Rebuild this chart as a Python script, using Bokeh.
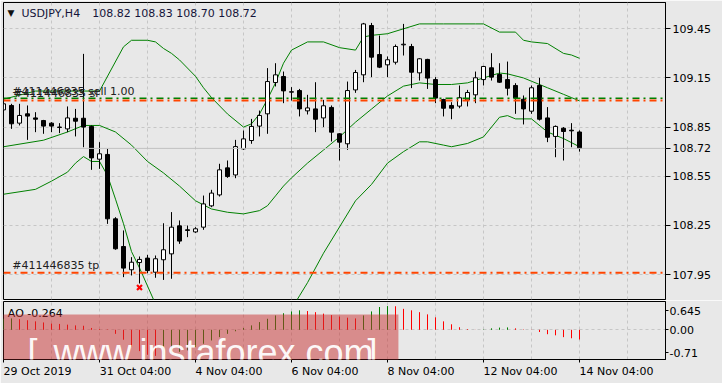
from bokeh.plotting import figure
from bokeh.models import ColumnDataSource, FixedTicker, Span, Label, Range1d, PrintfTickFormatter, Grid
from bokeh.layouts import column
from bokeh.embed import file_html
from bokeh.resources import INLINE

# ---------------- data (USDJPY H4) ----------------
open_ = [108.955, 108.982, 108.874, 108.931, 108.906, 108.890, 108.874, 108.850, 108.839, 108.904,
         108.904, 108.854, 108.654, 108.683, 108.290, 108.121, 107.979, 108.023, 108.050, 107.964,
         108.040, 108.076, 108.247, 108.223, 108.210, 108.239, 108.369, 108.436, 108.601, 108.558,
         108.717, 108.768, 108.856, 108.931, 109.122, 109.159, 109.063, 109.073, 108.949, 108.961,
         108.906, 108.970, 108.809, 108.748, 109.077, 109.169, 109.470, 109.293, 109.230, 109.246,
         109.352, 109.342, 109.181, 109.263, 109.140, 109.018, 108.982, 108.978, 109.016, 109.047,
         109.140, 109.212, 109.171, 109.140, 109.104, 109.020, 108.947, 109.104, 108.906, 108.793,
         108.843, 108.831, 108.820]
high = [109.012, 108.992, 108.992, 108.982, 108.941, 108.894, 108.880, 108.874, 108.976, 108.961,
        109.297, 108.860, 108.758, 108.717, 108.300, 108.219, 108.056, 108.060, 108.070, 108.066,
        108.263, 108.331, 108.280, 108.249, 108.239, 108.432, 108.467, 108.626, 108.646, 108.772,
        108.829, 108.900, 108.951, 109.210, 109.240, 109.189, 109.094, 109.083, 109.047, 109.124,
        109.016, 108.982, 108.813, 109.128, 109.199, 109.486, 109.486, 109.409, 109.281, 109.354,
        109.480, 109.358, 109.271, 109.267, 109.155, 109.023, 109.002, 109.104, 109.077, 109.189,
        109.224, 109.301, 109.240, 109.250, 109.118, 109.043, 109.104, 109.151, 108.972, 108.860,
        108.850, 108.874, 108.830]
low = [108.941, 108.839, 108.860, 108.772, 108.819, 108.809, 108.819, 108.813, 108.819, 108.793,
       108.727, 108.589, 108.595, 108.259, 108.101, 107.934, 107.944, 107.895, 107.958, 107.930,
       107.917, 107.924, 108.137, 108.178, 108.204, 108.223, 108.361, 108.426, 108.540, 108.538,
       108.711, 108.748, 108.793, 108.809, 109.098, 108.996, 109.012, 108.915, 108.927, 108.819,
       108.850, 108.762, 108.646, 108.711, 109.059, 109.124, 109.155, 109.210, 109.155, 109.232,
       109.287, 109.088, 109.134, 109.083, 108.996, 108.915, 108.898, 108.965, 108.976, 108.996,
       109.104, 109.134, 109.120, 109.043, 108.931, 108.866, 108.931, 108.890, 108.758, 108.666,
       108.646, 108.727, 108.700]
close = [108.992, 108.870, 108.921, 108.917, 108.898, 108.856, 108.856, 108.848, 108.906, 108.886,
         108.850, 108.662, 108.687, 108.290, 108.107, 107.989, 108.025, 108.042, 107.974, 108.046,
         108.101, 108.239, 108.154, 108.219, 108.229, 108.381, 108.447, 108.589, 108.548, 108.731,
         108.778, 108.854, 108.921, 109.128, 109.169, 109.071, 109.066, 108.961, 108.967, 108.898,
         108.980, 108.819, 108.758, 109.073, 109.183, 109.480, 109.277, 109.216, 109.261, 109.342,
         109.356, 109.185, 109.267, 109.149, 109.027, 108.965, 108.965, 109.029, 109.061, 109.151,
         109.220, 109.155, 109.124, 109.087, 109.027, 108.961, 109.090, 108.898, 108.788, 108.854,
         108.823, 108.827, 108.720]

time_ticks = [0, 12, 24, 36, 48, 60, 72]
time_labels = ["29 Oct 2019", "31 Oct 04:00", "4 Nov 04:00", "6 Nov 04:00",
               "8 Nov 04:00", "12 Nov 04:00", "14 Nov 04:00"]
time_label_px = [68, 72, 67, 67, 67, 74, 74]
price_ticks = [107.95, 108.25, 108.55, 108.85, 109.15, 109.45]

# Bollinger bands (read at selected bars)
upper_x = [0, 4, 10, 12, 15, 16, 18, 19, 20, 21, 22, 24, 25, 26, 28, 30, 31, 32, 33, 34,
           35, 36, 38, 40, 42, 44, 45, 46, 48, 50, 52, 55, 59, 60, 62, 64, 65, 66, 68, 70, 71, 72]
upper = [109.02, 109.07, 109.07, 109.07, 109.34, 109.38, 109.38, 109.37, 109.33, 109.30,
         109.26, 109.16, 109.09, 109.03, 108.93, 108.85, 108.87, 108.93, 109.02, 109.12,
         109.24, 109.32, 109.37, 109.37, 109.335, 109.32, 109.40, 109.41, 109.42, 109.45,
         109.48, 109.48, 109.48, 109.48, 109.43, 109.43, 109.38, 109.37, 109.36, 109.30,
         109.29, 109.27]
middle_x = [0, 5, 8, 10, 12, 14, 16, 18, 20, 22, 24, 26, 28, 30, 32, 33, 34, 35, 36, 38,
            40, 42, 44, 46, 48, 50, 52, 54, 56, 58, 60, 62, 63, 65, 66, 68, 70, 71, 72]
middle = [108.73, 108.77, 108.82, 108.86, 108.86, 108.82, 108.74, 108.64, 108.57, 108.49,
          108.40, 108.35, 108.33, 108.32, 108.34, 108.37, 108.43, 108.49, 108.54, 108.63,
          108.71, 108.79, 108.88, 108.96, 109.04, 109.10, 109.12, 109.11, 109.11, 109.12,
          109.15, 109.18, 109.175, 109.15, 109.13, 109.09, 109.05, 109.03, 109.01]
lower_x1 = [0, 4, 6, 8, 9, 10, 11, 12, 13, 14, 15, 16, 17, 18, 19]
lower1 = [108.44, 108.47, 108.52, 108.575, 108.63, 108.67, 108.64, 108.64, 108.555, 108.41,
          108.26, 108.09, 107.99, 107.88, 107.77]
lower_x2 = [36, 37, 38, 40, 42, 44, 46, 48, 50, 52, 53, 55, 56, 58, 60, 62, 63, 64, 66, 68, 70, 72]
lower2 = [107.74, 107.82, 107.90, 108.08, 108.24, 108.40, 108.50, 108.63, 108.70, 108.76,
          108.76, 108.74, 108.73, 108.75, 108.79, 108.91, 108.92, 108.90, 108.90, 108.82,
          108.78, 108.73]

sell_price = 109.026
sl_price = 109.012
tp_price = 107.960
last_price = 108.72
closed_x = [17]
closed_y = [107.871]

ao = [0.30, 0.31, 0.29, 0.26, 0.23, 0.20, 0.17, 0.16, 0.14, 0.12,
      0.11, 0.05, 0.02, 0.01, -0.11, -0.27, -0.45, -0.58, -0.68, -0.71,
      -0.68, -0.65, -0.60, -0.56, -0.47, -0.38, -0.29, -0.20, -0.11, -0.04,
      0.05, 0.12, 0.21, 0.30, 0.39, 0.45, 0.50, 0.53, 0.51, 0.48,
      0.44, 0.40, 0.36, 0.33, 0.31, 0.39, 0.50, 0.62, 0.645, 0.64,
      0.57, 0.53, 0.48, 0.42, 0.34, 0.23, 0.15, 0.07, 0.02, 0.003,
      0.01, 0.04, 0.06, 0.065, 0.04, 0.01, -0.005, -0.06, -0.12, -0.15,
      -0.20, -0.23, -0.264]
ao_tick_pos = [0.525, 0.0, -0.626]
ao_tick_text = ["0.645", "0.00", "-0.71"]

# ---------------- styling ----------------
BG = "#e8e8e8"
GRID = "#c6c6c6"
FONT = "DejaVu Sans"
BB_GREEN = "#008000"

bars = list(range(len(close)))
xr = Range1d(0.0, 82.75)
grid_x = list(range(0, 84, 6))

Y0, Y1 = 107.7974, 109.6106

# ---------------- main price panel ----------------
p1 = figure(width=722, height=300, x_range=xr, y_range=Range1d(Y0, Y1),
            output_backend="svg", toolbar_location=None, x_axis_location=None,
            y_axis_location="right", min_border_left=3, min_border_right=57,
            min_border_top=2, min_border_bottom=1)
p1.background_fill_color = BG
p1.border_fill_color = BG
p1.outline_line_color = "black"
p1.outline_line_width = 1

ax = p1.yaxis[0]
ax.ticker = FixedTicker(ticks=price_ticks + [last_price])
ax.formatter = PrintfTickFormatter(format="%.2f")
ax.major_tick_out = 5
ax.major_tick_in = 0
ax.minor_tick_line_color = None
ax.axis_line_color = "black"
ax.major_tick_line_color = "black"
ax.major_label_standoff = 2
ax.major_label_text_font = FONT
ax.major_label_text_font_size = "11px"
ax.major_label_text_color = "black"

p1.ygrid.ticker = FixedTicker(ticks=price_ticks)
p1.ygrid.grid_line_color = GRID
p1.ygrid.grid_line_dash = "3 3"
for g in p1.xgrid:
    g.visible = False
p1.add_layout(Grid(dimension=0, ticker=FixedTicker(ticks=grid_x),
                   grid_line_color=GRID, grid_line_dash="3 3"), "center")

# bid line
p1.add_layout(Span(location=last_price, dimension="width", line_color="#c0c0c0", line_width=1))

# Bollinger bands
p1.line(upper_x, upper, line_color=BB_GREEN, line_width=1)
p1.line(middle_x, middle, line_color=BB_GREEN, line_width=1)
p1.line(lower_x1, lower1, line_color=BB_GREEN, line_width=1)
p1.line(lower_x2, lower2, line_color=BB_GREEN, line_width=1)

# order lines
p1.add_layout(Span(location=sell_price, dimension="width", line_color="#008000",
                   line_width=1.5, line_dash="7 4 2 4"))
p1.add_layout(Span(location=sl_price, dimension="width", line_color="#ff4500",
                   line_width=2, line_dash="7 4 2 4"))
p1.add_layout(Span(location=tp_price, dimension="width", line_color="#ff4500",
                   line_width=2, line_dash="7 4 2 4"))

# candles
src = ColumnDataSource(dict(
    x=bars, high=high, low=low,
    top=[max(o, c) for o, c in zip(open_, close)],
    bottom=[min(o, c) for o, c in zip(open_, close)],
    fill=["white" if c >= o else "black" for o, c in zip(open_, close)],
))
p1.segment(x0="x", y0="high", x1="x", y1="low", source=src, line_color="black", line_width=1)
p1.vbar(x="x", width=0.5, top="top", bottom="bottom", source=src,
        fill_color="fill", line_color="black", line_width=1)

p1.scatter(closed_x, closed_y, marker="x", size=7, line_width=2.2, color="#ff0000")

def lab(p, x, y, text, size="11px", color="black", font=FONT, baseline="middle",
        x_units="screen", y_units="screen", **kw):
    l = Label(x=x, y=y, x_units=x_units, y_units=y_units, text=text,
              text_font_size=size, text_color=color, text_font=font,
              text_baseline=baseline, text_align="left", **kw)
    p.add_layout(l)
    return l

lab(p1, 4, 286.5, "\u25bc", size="9px", color="#101010")
lab(p1, 18, 286.3, "USDJPY,H4", color="#14143a")
lab(p1, 88.7, 286.3, "108.82 108.83 108.70 108.72", color="#14143a")
lab(p1, 8.7, 208.2, "#411446835 sell 1.00", color="#202020")
lab(p1, 10.3, 206.0, "#411446835 sl", color="#202020")
lab(p1, 8.7, 33.7, "#411446835 tp", color="#202020")

# ---------------- AO panel ----------------
p2 = figure(width=722, height=83, x_range=xr, y_range=Range1d(-0.808, 0.770),
            output_backend="svg", toolbar_location=None, x_axis_location="below",
            y_axis_location="right", min_border_left=3, min_border_right=57,
            min_border_top=1, min_border_bottom=24)
p2.background_fill_color = BG
p2.border_fill_color = BG
p2.outline_line_color = "black"

ay = p2.yaxis[0]
ay.ticker = FixedTicker(ticks=ao_tick_pos)
ay.major_label_overrides = dict(zip(ao_tick_pos, ao_tick_text))
ay.major_tick_out = 3
ay.major_tick_in = 0
ay.minor_tick_line_color = None
ay.axis_line_color = "black"
ay.major_label_standoff = 1
ay.major_label_text_font = FONT
ay.major_label_text_font_size = "11px"
ay.major_label_text_color = "black"

label_centers = [t + w / 16.0 for t, w in zip(time_ticks, time_label_px)]
axx = p2.xaxis[0]
axx.ticker = FixedTicker(ticks=label_centers, minor_ticks=time_ticks)
axx.major_label_overrides = dict(zip(label_centers, time_labels))
axx.major_tick_line_color = None
axx.major_tick_out = 3
axx.major_tick_in = 0
axx.minor_tick_out = 3
axx.minor_tick_in = 0
axx.minor_tick_line_color = "black"
axx.axis_line_color = "black"
axx.major_label_standoff = 2
axx.major_label_text_font = FONT
axx.major_label_text_font_size = "11px"
axx.major_label_text_color = "black"

for g in p2.xgrid:
    g.visible = False
p2.add_layout(Grid(dimension=0, ticker=FixedTicker(ticks=grid_x),
                   grid_line_color=GRID, grid_line_dash="3 3"), "center")
p2.ygrid.ticker = FixedTicker(ticks=[0])
p2.ygrid.grid_line_color = GRID
p2.ygrid.grid_line_dash = "3 3"

ao_col = ["#008000" if (i == 0 or ao[i] > ao[i - 1]) else "#ff0000" for i in range(len(ao))]
ao_src = ColumnDataSource(dict(x=bars, y=ao, c=ao_col))
p2.segment(x0="x", y0=0, x1="x", y1="y", source=ao_src, line_color="c", line_width=1)

lab(p2, 4.3, 46.5, "AO -0.264")

# watermark
lab(p2, -3, -24, "x", size="10px", color="#d98a8c", baseline="bottom",
    text_alpha=0.02, background_fill_color="#c83030", background_fill_alpha=0.5,
    padding=(196, 29))
lab(p2, 24, 7, "[", size="36px", color="white", font="Liberation Sans",
    baseline="alphabetic", text_alpha=0.95)
lab(p2, 50, 7, "www.instaforex.com", size="36px", color="white", font="Liberation Sans",
    baseline="alphabetic", text_alpha=0.95)
lab(p2, 364, 7, "]", size="36px", color="white", font="Liberation Sans",
    baseline="alphabetic", text_alpha=0.95)

layout = column(p1, p2, spacing=0)
open("out.html", "w").write(file_html(layout, INLINE))
